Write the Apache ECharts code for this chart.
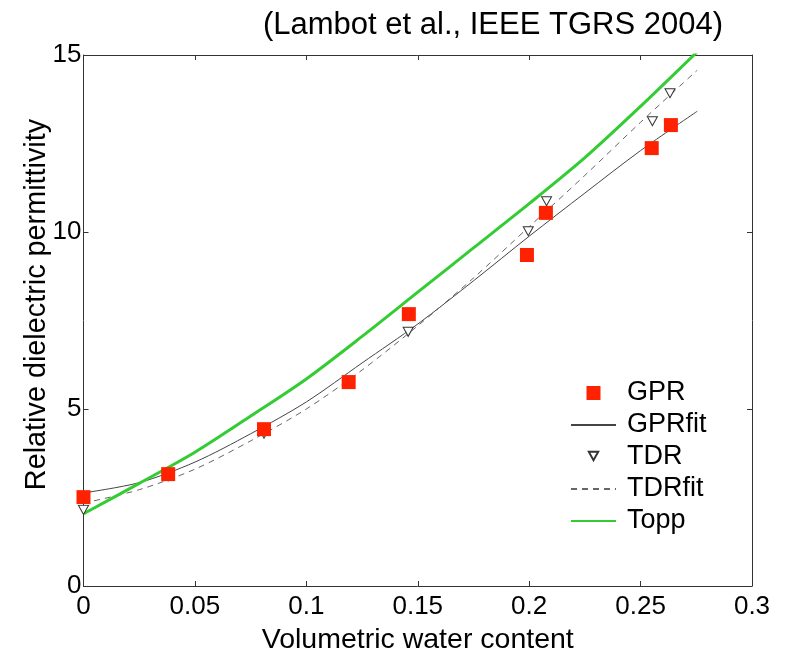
<!DOCTYPE html>
<html><head><meta charset="utf-8">
<script src="https://cdn.jsdelivr.net/npm/echarts@6/dist/echarts.min.js"></script>
<style>html,body{margin:0;padding:0;background:#fff}#c{width:789px;height:656px}</style>
</head><body><div id="c"></div>
<script>
// Measured points
const gprTheta = [0, 0.038, 0.081, 0.119, 0.146, 0.199, 0.2075, 0.255, 0.2636];
const gprEps   = [2.51, 3.16, 4.43, 5.76, 7.68, 9.35, 10.54, 12.37, 13.02];
const tdrTheta = [0, 0.038, 0.081, 0.119, 0.1457, 0.1996, 0.2078, 0.2553, 0.2632];
const tdrEps   = [2.15, 3.1, 4.3, 5.8, 7.18, 10.02, 10.87, 13.13, 13.92];
// Fitted curves
const fitTheta   = [0, 0.025, 0.05, 0.075, 0.1, 0.125, 0.15, 0.175, 0.2, 0.225, 0.25, 0.2754];
const gprFitEps  = [2.63, 2.92, 3.5, 4.3, 5.2, 6.3, 7.4, 8.62, 9.88, 11.1, 12.3, 13.41];
const tdrFitEps  = [2.34, 2.72, 3.3, 4.1, 5.0, 6.1, 7.35, 8.7, 10.15, 11.6, 13.1, 14.57];
const toppEps    = [2.04, 2.9, 3.78, 4.8, 5.85, 7.05, 8.3, 9.55, 10.8, 12.1, 13.55, 15.09];
const xTicks = [0, 0.05, 0.1, 0.15, 0.2, 0.25, 0.3];
const yTicks = [0, 5, 10, 15];

const zip = (a, b) => a.map((v, i) => [v, b[i]]);
const FONT = 'Liberation Sans, Arial, Helvetica, sans-serif';
const AX = '#333';
const hideSym = {opacity: 0};

const chart = echarts.init(document.getElementById('c'), null, {renderer: 'canvas'});
chart.setOption({
  backgroundColor: '#fff',
  animation: false,
  title: {
    text: '(Lambot et al., IEEE TGRS 2004)',
    left: 488, top: 5, textAlign: 'center',
    textStyle: {fontFamily: FONT, fontSize: 31, fontWeight: 'normal', color: '#000'}
  },
  grid: {left: 83.5, right: 37, top: 55, bottom: 70, containLabel: false, outerBoundsMode: 'none'},
  legend: {
    orient: 'vertical', left: 565, top: 374.5,
    itemWidth: 45, itemHeight: 14, itemGap: 5,
    symbolKeepAspect: true,
    textStyle: {fontFamily: FONT, fontSize: 27, color: '#000', padding: [0, 0, 0, 6]},
    data: [
      {name: 'GPR', icon: 'path://M0,0L10,0L10,10L0,10Z', itemStyle: {opacity: 1}},
      {name: 'GPRfit', itemStyle: hideSym},
      {name: 'TDR', icon: 'path://M-2,-2M12,13M0,0L10,0L5,9Z'},
      {name: 'TDRfit', itemStyle: hideSym},
      {name: 'Topp', itemStyle: hideSym}
    ]
  },
  xAxis: [{
    type: 'value', min: xTicks[0], max: xTicks[xTicks.length - 1], interval: 0.05,
    name: 'Volumetric water content', nameLocation: 'middle', nameGap: 40, nameMoveOverlap: false,
    nameTextStyle: {fontFamily: FONT, fontSize: 28.5, color: '#000'},
    axisLine: {onZero: false, lineStyle: {color: AX, width: 1}},
    axisTick: {inside: true, length: 5, lineStyle: {color: AX}},
    axisLabel: {fontFamily: FONT, fontSize: 26, color: '#000', margin: 8},
    splitLine: {show: false}
  }, {
    type: 'value', position: 'top', min: xTicks[0], max: xTicks[xTicks.length - 1], interval: 0.05,
    axisLine: {onZero: false, lineStyle: {color: AX, width: 1}},
    axisTick: {inside: true, length: 5, lineStyle: {color: AX}},
    axisLabel: {show: false}, splitLine: {show: false}
  }],
  yAxis: [{
    type: 'value', min: yTicks[0], max: yTicks[yTicks.length - 1], interval: 5,
    name: 'Relative dielectric permittivity', nameLocation: 'middle', nameGap: 32, nameMoveOverlap: false,
    nameTextStyle: {fontFamily: FONT, fontSize: 28.8, color: '#000', padding: [0, 0, 0, 32]},
    axisLine: {show: true, onZero: false, lineStyle: {color: AX, width: 1}},
    axisTick: {show: true, inside: true, length: 5, lineStyle: {color: AX}},
    axisLabel: {fontFamily: FONT, fontSize: 26, color: '#000', margin: 2},
    splitLine: {show: false}
  }, {
    type: 'value', position: 'right', min: yTicks[0], max: yTicks[yTicks.length - 1], interval: 5,
    axisLine: {show: true, onZero: false, lineStyle: {color: AX, width: 1}},
    axisTick: {show: true, inside: true, length: 5, lineStyle: {color: AX}},
    axisLabel: {show: false}, splitLine: {show: false}
  }],
  series: [
    {name: 'GPRfit', type: 'line', data: zip(fitTheta, gprFitEps), smooth: 0.3, symbol: 'none', z: 2,
     lineStyle: {color: '#444', width: 1}, itemStyle: {color: '#444'}},
    {name: 'TDRfit', type: 'line', data: zip(fitTheta, tdrFitEps), smooth: 0.3, symbol: 'none', z: 2,
     lineStyle: {color: '#666', width: 1, type: [6, 5]}, itemStyle: {color: '#666'}},
    {name: 'Topp', type: 'line', data: zip(fitTheta, toppEps), smooth: 0.3, symbol: 'none', z: 3,
     lineStyle: {color: '#33cc33', width: 3}, itemStyle: {color: '#33cc33'}},
    {name: 'TDR', type: 'scatter', data: zip(tdrTheta, tdrEps), symbol: 'path://M0,0L10,0L5,9Z',
     symbolSize: [10, 9], z: 4,
     itemStyle: {color: '#fff', borderColor: '#333', borderWidth: 1, opacity: 1}},
    {name: 'GPR', type: 'scatter', data: zip(gprTheta, gprEps), symbol: 'rect', symbolSize: 14, z: 5,
     itemStyle: {color: '#ff2200', opacity: 1}}
  ]
});
</script></body></html>
